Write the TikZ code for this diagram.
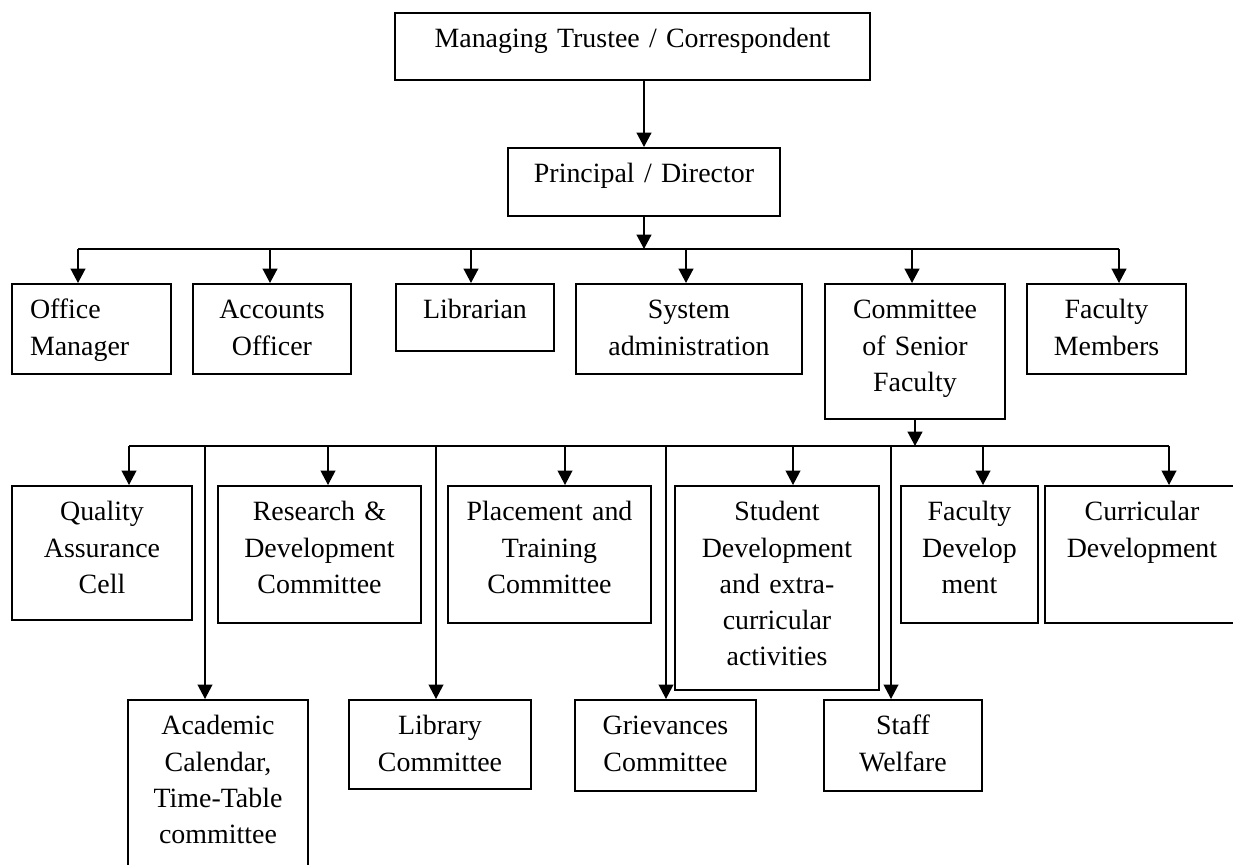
\documentclass[tikz,border=0pt]{standalone}
\usepackage{fontspec}
\setmainfont{Liberation Serif}
\usetikzlibrary{arrows.meta}

\begin{document}
\begin{tikzpicture}[x=0.43pt,y=-0.43pt]
    \newcommand{\px}{0.43pt} % one pixel of the original chart
    \newcommand{\busa}{249} % height of the upper bus
    \newcommand{\busb}{446} % height of the lower bus
    \newcommand{\rowa}{283} % top of the boxes below the upper bus
    \newcommand{\rowb}{485} % top of the short drops of the lower bus
    \newcommand{\rowc}{699} % top of the long drops of the lower bus

    % set the style of the boxes and arrows
    \tikzset{
        orgbox/.style 2 args={
            draw,
            line width=0.7pt,
            anchor=north,
            align=center,
            inner xsep=0pt,
            inner ysep=0pt,
            font=\fontsize{12pt}{15.6pt}\selectfont,
            text width=#1*\px,
            text height=35*\px,
            text depth=(#2-35)*\px
            },
        arr/.style={
            -{Triangle[length=6.2pt,width=6.4pt]},
            line width=0.7pt
            },
        lowline/.style={line width=0.55pt}
    }

    \useasboundingbox (0,0) rectangle (1233,865);

    % head of the chart
    \node[orgbox={475}{67}] (tr) at (632.5,12) {Managing Trustee / Correspondent};
    \node[orgbox={272}{68}] (pr) at (644,147) {Principal / Director};
    \draw[arr] (pr.north |- tr.south) -- (pr.north);

    % boxes under the principal
    \node[orgbox={159}{90}, align=left, text width=123*\px, inner xsep=18*\px] (om) at (91.5,\rowa) {Office\\Manager};
    \node[orgbox={158}{90}] (ao) at (272,\rowa) {Accounts\\Officer};
    \node[orgbox={158}{67}] (lib) at (475,\rowa) {Librarian};
    \node[orgbox={226}{90}] (sys) at (689,\rowa) {System\\administration};
    \node[orgbox={180}{135}] (csf) at (915,\rowa) {Committee\\of Senior\\Faculty};
    \node[orgbox={159}{90}] (fm) at (1106.5,\rowa) {Faculty\\Members};

    % upper bus
    \foreach \n/\x in {om/78, ao/270, lib/471, sys/686, csf/912, fm/1119}{
        \coordinate (d\n) at (\x,\busa);
        \draw[arr] (d\n) -- (d\n |- \n.north);
    }
    \draw[line width=0.7pt] (dom) -- (dfm);
    \draw[arr] (pr.south) -- (pr.south |- dom);

    % committees, first line
    \node[orgbox={180}{134}] (qac) at (102,\rowb) {Quality\\Assurance\\Cell};
    \node[orgbox={203}{137}] (rd) at (319.5,\rowb) {Research \&\\Development\\Committee};
    \node[orgbox={203}{137}] (pt) at (549.5,\rowb) {Placement and\\Training\\Committee};
    \node[orgbox={204}{204}] (sd) at (777,\rowb) {Student\\Development\\and extra-\\curricular\\activities};
    \node[orgbox={137}{137}] (fd) at (969.5,\rowb) {Faculty\\Develop\\ment};
    \node[orgbox={194}{137}] (cd) at (1142,\rowb) {Curricular\\Development};

    % committees, second line
    \node[orgbox={180}{185}] (act) at (218,\rowc) {Academic\\Calendar,\\Time-Table\\committee};
    \node[orgbox={182}{89}] (libc) at (440,\rowc) {Library\\Committee};
    \node[orgbox={181}{91}] (gc) at (665.5,\rowc) {Grievances\\Committee};
    \node[orgbox={158}{91}] (sw) at (903,\rowc) {Staff\\Welfare};

    % lower bus
    \foreach \n/\x in {qac/129, act/205, rd/328, libc/436, pt/565, gc/666, sd/793, sw/891, fd/983, cd/1169}{
        \coordinate (d\n) at (\x,\busb);
        \draw[arr, lowline] (d\n) -- (d\n |- \n.north);
    }
    \draw[lowline] (dqac) -- (dcd);
    \draw[arr] (csf.south) -- (csf.south |- dqac);

\end{tikzpicture}
\end{document}
